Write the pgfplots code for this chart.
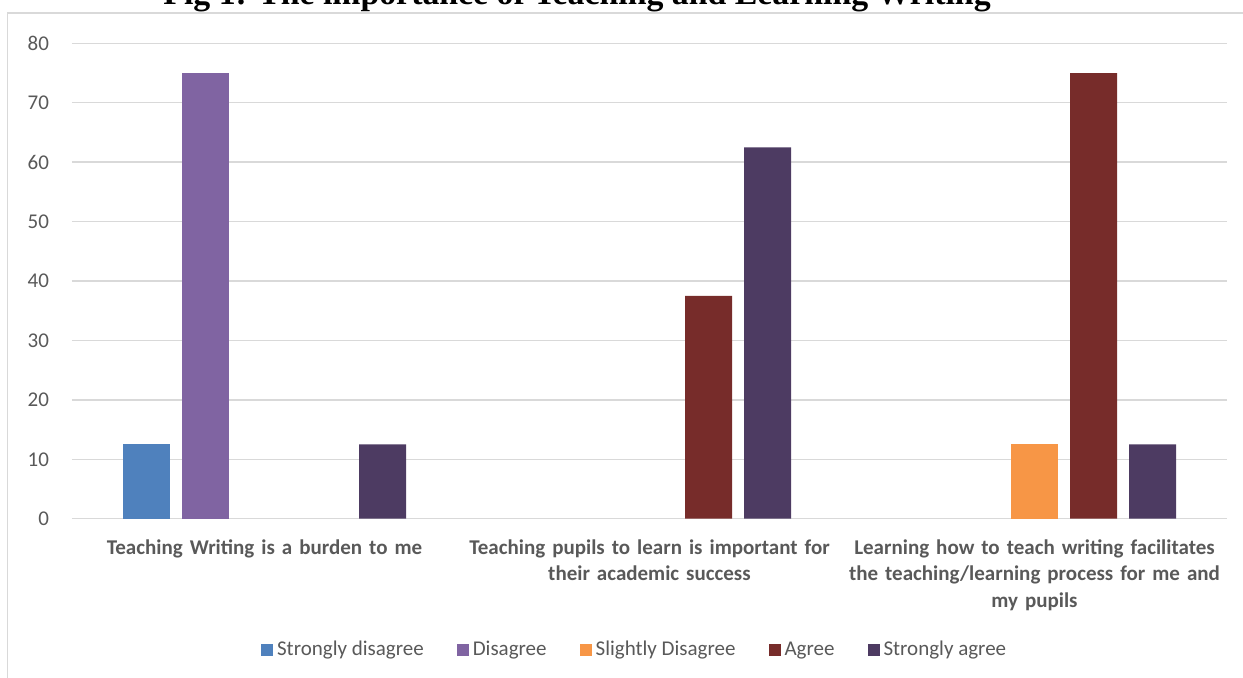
\documentclass[border=0pt]{standalone}
\usepackage{pgfplots}
\pgfplotsset{compat=1.18}
\usepackage{fontspec}
\setmainfont{Carlito}
\newfontfamily\titlefont{Liberation Serif}
\definecolor{gridgray}{HTML}{D9D9D9}
\definecolor{labelgray}{HTML}{595959}
\definecolor{cSD}{HTML}{4F81BD}
\definecolor{cD}{HTML}{8064A2}
\definecolor{cSlD}{HTML}{F79646}
\definecolor{cA}{HTML}{772C2A}
\definecolor{cSA}{HTML}{4D3B62}
\begin{document}
\begin{tikzpicture}
\draw[color=gridgray, line width=0.75pt] (3.75pt,-6.6pt) rectangle (700pt,-400pt);
\node[anchor=base, font=\titlefont\bfseries\fontsize{16.9}{20}\selectfont] at (288.5pt,-2pt) {Fig 1: The importance of Teaching and Learning Writing};
\begin{axis}[
  at={(36pt,-259.35pt)}, anchor=south west,
  scale only axis, width=577.5pt, height=237.7pt,
  xmin=-0.5, xmax=2.5, ymin=0, ymax=80,
  ybar=6pt, bar width=23.5pt,
  xtick={0,1,2},
  xticklabels={{Teaching Writing is a burden to me},{Teaching pupils to learn is important for\\their academic success},{Learning how to teach writing facilitates\\the teaching/learning process for me and\\my pupils}},
  ytick={0,10,...,80},
  ymajorgrids, major grid style={gridgray, line width=0.75pt},
  axis line style={draw=none}, major tick length=0pt,
  /pgf/number format/assume math mode=true,
  yticklabel style={font=\fontsize{10.5}{12.6}\selectfont, text=labelgray, xshift=-8pt},
  xticklabel style={font=\bfseries\fontsize{10.5}{13.2}\selectfont, text=labelgray, align=center, text width=190pt, yshift=-7pt},
  legend columns=-1,
  legend style={draw=none, at={(0.488,-0.276)}, anchor=center, font=\fontsize{10.5}{12.6}\selectfont, text=labelgray,
    /tikz/every even column/.append style={column sep=14.5pt}},
  legend image code/.code={\fill[#1] (0pt,-3pt) rectangle (6pt,3pt);},
]
\addplot[fill=cSD, draw=none] coordinates {(0,12.5)};
\addplot[fill=cD, draw=none] coordinates {(0,75)};
\addplot[fill=cSlD, draw=none] coordinates {(2,12.5)};
\addplot[fill=cA, draw=none] coordinates {(1,37.5) (2,75)};
\addplot[fill=cSA, draw=none] coordinates {(0,12.5) (1,62.5) (2,12.5)};
\legend{Strongly disagree, Disagree, Slightly Disagree, Agree, Strongly agree}
\end{axis}
\pgfresetboundingbox
\useasboundingbox (0,0) rectangle (621.5pt,-338.5pt);
\end{tikzpicture}
\end{document}
